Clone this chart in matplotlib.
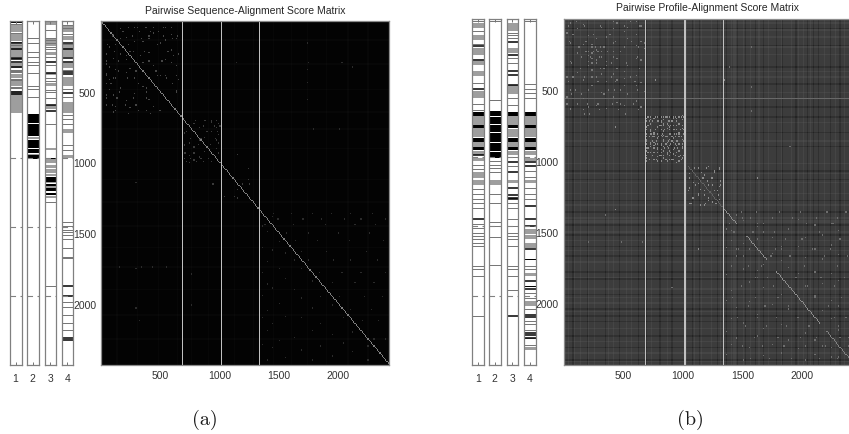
import matplotlib
matplotlib.use('Agg')
import matplotlib.pyplot as plt
import numpy as np

plt.rcParams['font.family'] = ['Liberation Sans', 'DejaVu Sans']

W, H = 849, 435
N = 2433
CELL = 10

# Значения читаем прямо с картинки (строки матрицы)
strip_labels = ['1', '2', '3', '4']
matrix_ticks = [500, 1000, 1500, 2000]
group_bounds = [971, 1459, 1947]

# ---- (a) полосы: сплошной чёрный, сплошной серый, чёрные линии, тонкие линии
a1_black = [(0, 12)]
a1_gray = [(25, 80), (95, 140), (165, 255), (295, 335), (372, 405), (420, 462), (495, 535), (540, 653)]
a1_lines = [153, 198, 259, 269, 288, 323, 519, 505]
a1_thin = [18, 88, 145, 170, 345, 355, 362, 410, 418, 470, 476]

a2_black = [(657, 720), (726, 813), (841, 874), (880, 897), (903, 936), (947, 978)]
a2_gray = [(817, 832), (938, 945)]
a2_lines = []
a2_thin = [123, 158, 217, 258, 288, 311, 370, 458, 481, 535]

a3_black = [(971, 975), (1100, 1136), (1150, 1165), (1180, 1205), (1215, 1232)]
a3_gray = [(5, 28), (125, 180), (217, 240), (365, 385), (440, 458), (596, 622), (900, 912), (978, 1006),
           (1018, 1040), (1050, 1075), (1085, 1095), (1140, 1148), (1170, 1178), (1240, 1250)]
a3_lines = [288, 370, 594, 634]
a3_thin = [63, 120, 135, 157, 185, 200, 255, 310, 405, 425, 487, 505, 548, 728, 1277, 1871]

a4_black = []
a4_gray = [(30, 75), (105, 134), (165, 252), (300, 335), (395, 458), (575, 653), (762, 790), (950, 970)]
a4_lines = [153, 198, 259, 288, 362, 372, 512, 1872, 1945, 2240, 2256]
a4_thin = [28, 50, 90, 160, 345, 480, 535, 665, 690, 725, 880, 910, 1419, 1448, 1478, 1495, 1514, 1542,
           1608, 1667, 1679, 1985, 2020, 2079, 2138, 2185]

# ---- (b) полосы
b1_black = [(660, 682), (748, 768), (836, 866), (902, 924)]
b1_gray = [(33, 68), (115, 150), (208, 255), (300, 325), (371, 407), (512, 558), (687, 745), (772, 832),
           (870, 900), (928, 956), (979, 1002), (1075, 1120), (1131, 1166)]
b1_lines = [192, 290, 493, 960, 1411]
b1_thin = [15, 91, 180, 450, 600, 640, 1026, 1060, 1200, 1235, 1270, 1295, 1330, 1445, 1469, 1504, 1527,
           1550, 1574, 1597, 1738, 1761, 1808, 2088]

b2_black = [(652, 682), (694, 740), (745, 796), (804, 870), (877, 932), (937, 978)]
b2_gray = [(1131, 1166)]
b2_lines = []
b2_thin = [15, 570, 575, 1000, 1026, 1050, 1075, 1235, 1295, 1429, 1457, 1535, 1731]

b3_black = [(660, 682), (748, 772), (836, 866), (905, 925)]
b3_gray = [(33, 90), (208, 245), (470, 530), (687, 745), (776, 832), (870, 900), (928, 956), (1131, 1155)]
b3_lines = [5, 168, 255, 366, 395, 470, 1007, 1077, 1189, 1236, 1259, 1270, 2088]
b3_thin = [100, 115, 140, 280, 313, 558, 605, 975, 1037, 1295, 1330, 1410, 1458, 1504, 1527, 1550, 1597,
           1738, 1761, 1808, 1908]

b4_black = [(660, 682), (748, 768), (836, 866), (902, 924), (1689, 1694), (1700, 1705), (1880, 1884)]
b4_gray = [(687, 745), (772, 832), (870, 900), (928, 956), (979, 1002), (1131, 1155), (1475, 1510),
           (1520, 1550), (1574, 1610), (1785, 1808), (1983, 2018), (2310, 2325)]
b4_lines = [1007, 1037, 1315, 1406, 1457, 1617, 1843, 1902, 2085, 2095, 2205, 2222, 2240]
b4_thin = [15, 462, 494, 525, 558, 1070, 1115, 1189, 1235, 1270, 1738, 1761, 1925, 1960, 2042, 2123, 2146,
           2185, 2245, 2291]

# ---- яркие линии и блики матриц
a_vlines = [689, 1015, 1333]
b_vlines = [686, 1016, 1334]
b_hlines = [565]

a_texture = [130, 300, 480, 640, 760, 900, 1120, 1280, 1450, 1600, 1740, 1900, 2080, 2250]
b_light = [30, 85, 138, 205, 250, 375, 410, 520, 565, 730, 860, 1026, 1096, 1150, 1230, 1310, 1400, 1422,
           1434, 1500, 1560, 1633, 1714, 1820, 1900, 1965, 2006, 2060, 2180, 2275, 2350, 2415]
b_dark = [70, 190, 340, 460, 620, 699, 804, 900, 1072, 1131, 1280, 1360, 1450, 1520, 1600, 1675, 1780, 1831,
          1948, 2040, 2094, 2135, 2230, 2310, 2400]

a_diag = [(0, 2433, 0.5)]
b_diag = [(1040, 1333, 0.38), (1333, 1450, 0.55), (1530, 1700, 0.55), (1780, 2150, 0.55), (2200, 2420, 0.5)]

# строка: столбцы, матрица симметрична
a_specks_top = {
    47: [232, 305, 372, 447, 523, 596], 78: [183, 329, 412, 487], 103: [92, 268, 404, 526, 641],
    127: [343, 163, 607], 162: [51, 238, 472], 219: [116, 275, 368, 563], 243: [215, 333, 612],
    286: [49, 147, 402, 518], 356: [143, 297, 468], 384: [46, 473, 639], 409: [121, 228, 551],
    447: [83, 312, 606], 503: [158, 388, 636], 549: [44, 135, 271, 381], 592: [298, 93, 207],
    638: [129, 318, 497], 655: [233, 412],
}
a_specks_mid = {
    703: [798, 883, 938], 742: [862, 957, 1003], 788: [724, 897, 988], 833: [752, 848, 963],
    878: [703, 824, 927], 931: [718, 783, 998], 972: [704, 758, 842, 903], 998: [723, 804, 863],
    1153: [948, 1192, 1258], 1243: [1047, 1128],
}
a_specks_low = {
    1362: [1453, 1604, 1782, 1947, 2103, 2296], 1403: [1497, 1702, 1863, 2052, 2198, 2404],
    1448: [1383, 1628, 1897, 2142, 2318], 1503: [1563, 1758, 2004, 2262], 1558: [1643, 1823, 2097, 2383],
    1632: [1698, 1903, 2247], 1697: [1754, 1962, 2103, 2338], 1783: [1848, 2033, 2197, 2402],
    1858: [1953, 2148, 2303], 1953: [2018, 2223, 2377], 2042: [2107, 2283], 2128: [320, 2203, 2347],
    2253: [2307, 2403], 763: [1790, 2012], 1740: [152, 342, 433], 292: [1148, 1752, 2033], 558: [1748],
}
b_specks_top = {
    22: [103, 418, 557], 58: [33, 172, 307, 503, 637], 112: [78, 243, 382, 603], 163: [42, 188, 433, 562],
    207: [122, 233, 262, 303, 338, 628], 238: [187, 242, 283, 318, 363, 478], 272: [148, 222, 297, 413, 618],
    313: [63, 278, 392, 522], 358: [132, 303, 337, 443, 638], 412: [77, 173, 232, 398, 553],
    448: [33, 287, 433, 597], 503: [98, 203, 377, 423, 472, 618], 538: [63, 147, 333, 537],
    602: [28, 192, 283, 403, 478, 583], 648: [53, 163, 297, 458, 623], 672: [172, 218, 513],
}
b_specks_mid = {
    692: [702, 728, 764, 787, 833, 858, 884, 912, 938, 963, 987, 1004],
    725: [715, 742, 793, 812, 871, 902],
    757: [708, 804, 838, 873, 897, 948, 996],
    783: [722, 768, 815, 842, 886, 923, 971, 1008],
    812: [692, 733, 757, 828, 893, 928, 962, 1002],
    836: [712, 748, 793, 824, 857, 904, 937, 983],
    861: [698, 743, 776, 833, 872, 907, 953, 1006],
    889: [694, 724, 767, 813, 852, 893, 932, 968, 999],
    917: [708, 753, 788, 843, 878, 922, 957, 992],
    943: [703, 727, 783, 817, 863, 898, 947, 1011],
    968: [692, 747, 802, 838, 883, 933, 973, 1001],
    996: [688, 718, 772, 852, 908, 986],
    1058: [1093, 1197, 1302], 1087: [1153, 1262], 1123: [1058, 1163, 1238, 1621], 1147: [1204, 1318],
    1178: [1103, 1248, 1312], 1212: [1045, 1176, 1287], 1243: [1128, 1292], 1268: [1073, 1214],
    1302: [1068, 1183, 1278], 433: [768, 1342],
}
b_specks_low = {
    1362: [1483, 1618, 1803, 1987, 2204, 2368], 1403: [1497, 1563, 1742, 1918, 2113, 2297],
    1447: [1383, 1622, 1678, 2033, 2258], 1502: [1423, 1587, 1763, 2147, 2403], 1558: [1623, 1857, 1993, 2317],
    1623: [1468, 1773, 1827, 2083, 2237], 1677: [1503, 1733, 1897, 2183, 2377], 1742: [1548, 1653, 2017, 2293],
    1823: [1607, 1703, 1947, 2153, 2357], 1887: [1483, 1757, 2043, 2263], 1963: [1417, 1603, 1797, 2103, 2327],
    2027: [1543, 1687, 1883, 2213, 2403], 2103: [1457, 1623, 1783, 1957, 2263, 2367],
    2167: [1523, 1697, 1863, 2053, 2303], 2243: [1443, 1597, 1793, 1983, 2117, 2313, 2387],
    2307: [1497, 1663, 1843, 2023, 2197, 2383], 2392: [1563, 1727, 1903, 2143, 2297],
    1573: [203, 483, 657], 1897: [903], 1388: [342],
}


def to_axes(left, top, right, bottom):
    return [left / W, 1 - bottom / H, (right - left) / W, (bottom - top) / H]


def cell(v):
    return min(int(v / CELL), N // CELL)


def build_matrix(base, light, dark, light_amp, dark_amp, specks, speck_levels, diag, vlines, hlines, line_level):
    n = N // CELL + 1
    m = np.full((n, n), base, dtype=float)
    for v in light:
        m[cell(v), :] += light_amp
        m[:, cell(v)] += light_amp
    for v in dark:
        m[cell(v), :] -= dark_amp
        m[:, cell(v)] -= dark_amp
    for group, level in zip(specks, speck_levels):
        for r, cols in group.items():
            for c in cols:
                m[cell(r), cell(c)] = level
                m[cell(c), cell(r)] = level
    for start, end, level in diag:
        for v in np.arange(start, end, CELL):
            m[cell(v), cell(v)] = level
    for v in hlines:
        m[cell(v), :] = np.maximum(m[cell(v), :], base + 0.17)
    for v in vlines:
        m[:, cell(v)] = line_level
    return np.clip(m, 0, 1)


def draw_strip(ax, black, gray, lines, thin, label):
    ax.set_xlim(0, 1)
    ax.set_ylim(N, 0)
    for a, b in gray:
        ax.axhspan(a, b, color='0.62', lw=0)
    for a, b in black:
        ax.axhspan(a, b, color='black', lw=0)
    ax.hlines(thin, 0, 1, color='0.45', lw=0.7)
    ax.hlines(lines, 0, 1, color='black', lw=1.1)
    ax.hlines(group_bounds, 0, 1, color='0.5', lw=0.8, linestyles=(0, (5, 4)))
    ax.set_xticks([0.5])
    ax.set_xticklabels([label])
    ax.set_yticks([])
    ax.tick_params(axis='x', direction='in', length=2.5, width=0.7, color='0.45', labelsize=7.5,
                   labelcolor='0.2', pad=5.5, top=True)
    for s in ax.spines.values():
        s.set_color('0.5')
        s.set_linewidth(0.9)


def draw_matrix(ax, m, title, title_y):
    ax.imshow(m, cmap='gray', vmin=0, vmax=1, extent=(0, N, N, 0), aspect='auto', interpolation='nearest')
    ax.set_xticks(matrix_ticks)
    ax.set_yticks(matrix_ticks)
    ax.tick_params(direction='in', length=0, labelsize=7.5, labelcolor='0.2', pad=3.5)
    for s in ax.spines.values():
        s.set_color('0.55')
        s.set_linewidth(0.9)
    fig.text(title[1] / W, 1 - title_y / H, title[0], ha='center', va='center', fontsize=7.5, color='0.15')


fig = plt.figure(figsize=(W / 100, H / 100), dpi=100)

# Панель (a)
a_strips = [(a1_black, a1_gray, a1_lines, a1_thin), (a2_black, a2_gray, a2_lines, a2_thin),
            (a3_black, a3_gray, a3_lines, a3_thin), (a4_black, a4_gray, a4_lines, a4_thin)]
a_edges = [(9.5, 21.5), (27, 38.5), (44.5, 56), (61.5, 73)]
for edge, data, label in zip(a_edges, a_strips, strip_labels):
    ax = fig.add_axes(to_axes(edge[0], 22, edge[1], 366))
    draw_strip(ax, *data, label)

a_matrix = build_matrix(0.015, a_texture, [], 0.015, 0,
                        [a_specks_top, a_specks_mid, a_specks_low], [0.27, 0.23, 0.17],
                        a_diag, a_vlines, [], 0.75)
ax = fig.add_axes(to_axes(101, 22, 389.3, 366))
draw_matrix(ax, a_matrix, ('Pairwise Sequence-Alignment Score Matrix', 245), 10.5)

# Панель (b)
b_strips = [(b1_black, b1_gray, b1_lines, b1_thin), (b2_black, b2_gray, b2_lines, b2_thin),
            (b3_black, b3_gray, b3_lines, b3_thin), (b4_black, b4_gray, b4_lines, b4_thin)]
b_edges = [(471.7, 483.7), (489, 500.7), (506.5, 518), (523.5, 535.5)]
for edge, data, label in zip(b_edges, b_strips, strip_labels):
    ax = fig.add_axes(to_axes(edge[0], 19.5, edge[1], 366))
    draw_strip(ax, *data, label)

b_matrix = build_matrix(0.24, b_light, b_dark, 0.03, 0.05,
                        [b_specks_top, b_specks_mid, b_specks_low], [0.47, 0.55, 0.43],
                        b_diag, b_vlines, b_hlines, 0.75)
ax = fig.add_axes(to_axes(563.5, 19.5, 853.8, 366))
draw_matrix(ax, b_matrix, ('Pairwise Profile-Alignment Score Matrix', 708), 8)

fig.text(205 / W, 1 - 420 / H, '(a)', ha='center', va='center', fontsize=14.5, family='cmr10', color='0.1')
fig.text(690.5 / W, 1 - 420 / H, '(b)', ha='center', va='center', fontsize=14.5, family='cmr10', color='0.1')

fig.savefig('out.png', dpi=100)
